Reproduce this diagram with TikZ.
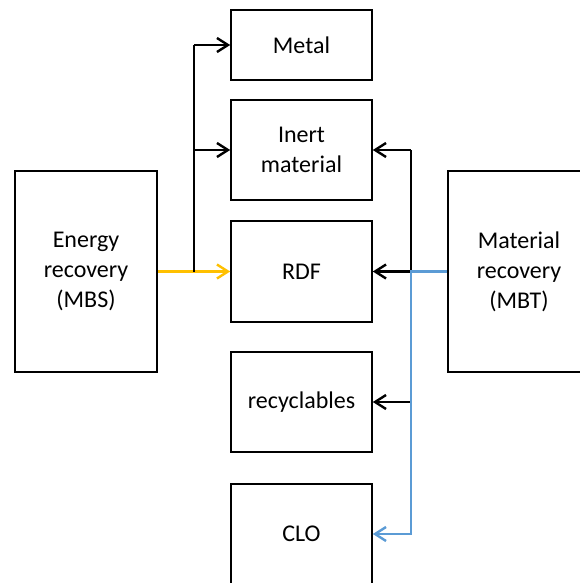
\documentclass[tikz,border=0pt]{standalone}
\usepackage{fontspec}
\setmainfont{Carlito}
\usetikzlibrary{arrows.meta}
\definecolor{gold}{RGB}{255,192,0}
\definecolor{steel}{RGB}{91,155,213}

\tikzset{
    box/.style={draw, line width=1.6pt, minimum width=141pt, align=center,
        font=\fontsize{24}{30}\selectfont, inner sep=0pt},
    link/.style={line width=2.4pt, -{Straight Barb[length=11pt,width=14pt]}},
}

\begin{document}
\begin{tikzpicture}[x=1pt,y=-1pt]
    \useasboundingbox (0,0) rectangle (579,583);

    % output boxes
    \node [box, minimum height=70pt] (metal) at (301.5,45) {Metal};
    \node [box, minimum height=100pt] (inert) at (301.5,150) {Inert\\material};
    \node [box, minimum height=101pt] (rdf) at (301.5,271.5) {RDF};
    \node [box, minimum height=100pt] (recyc) at (301.5,402) {recyclables};
    \node [box, minimum height=110pt] (clo) at (301.5,539) {};
    \node [font=\fontsize{24}{30}\selectfont] (clol) at (301.5,534) {CLO};

    % plants
    \node [box, minimum width=142pt, minimum height=201pt] (mbs) at (86,271.5) {Energy\\recovery\\(MBS)};
    \node [box, minimum width=142pt, minimum height=201pt] (mbt) at (519,271.5) {Material\\recovery\\(MBT)};

    % energy side
    \coordinate (ej) at (194,271.5);
    \coordinate (em) at (194,45);
    \coordinate (ei) at (194,150);
    \draw [link,gold] (mbs.east) -- (rdf.west);
    \draw [line width=2.4pt] (ej) -- (em);
    \draw [link] (em) -- (metal.west);
    \draw [link] (ei) -- (inert.west);

    % material side
    \coordinate (mj) at (411,271.5);
    \coordinate (mi) at (411,150);
    \coordinate (mr) at (411,402);
    \coordinate (mc) at (411,534);
    \draw [line width=2.4pt] (mj) -- (mi);
    \draw [link] (mi) -- (inert.east);
    \draw [link] (mj) -- (rdf.east);
    \draw [link] (mr) -- (recyc.east);
    \draw [link,steel] (mbt.west) -- (mj) -- (mc) -- (clo.east |- mc);

\end{tikzpicture}
\end{document}
